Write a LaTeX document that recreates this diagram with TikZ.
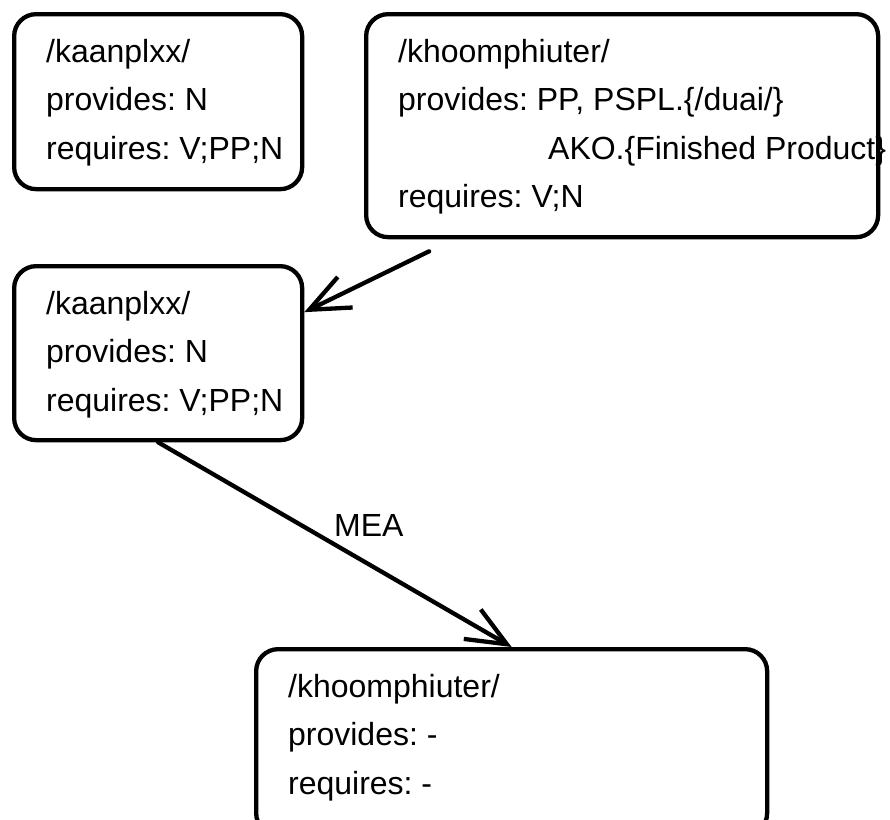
\documentclass[tikz,border=0pt]{standalone}
\usepackage{fontspec}
\setmainfont{Liberation Sans}
\usetikzlibrary{arrows.meta,calc}

% Fixed-size text block: #1 width, #2 height, #3 lines.
% First baseline sits 48pt below the top edge.
\newcommand\cardtext[3]{%
  \vbox to #2{\hsize=#1\relax\parskip=0pt\parindent=0pt
    \baselineskip=48.5pt\lineskiplimit=-100pt\frenchspacing
    \leftskip=32pt\rightskip=0pt plus 1fil\hyphenpenalty=10000
    \noindent\rule{0pt}{48pt}#3\par\vss}}

\begin{document}
\begin{tikzpicture}[x=1pt,y=-1pt,
    card/.style={draw=black, fill=white, line width=4.3pt,
      rounded corners=22pt, inner sep=0pt, anchor=north west},
    flow/.style={draw=black, line width=4.3pt, line cap=round,
      -{Straight Barb[length=40pt,width=34pt]}},
    every node/.style={font=\fontsize{32}{48.5}\selectfont}]

  \fill[white] (0,0) rectangle (890,819);
  \useasboundingbox (0,0) rectangle (890,819);

  \node[card] (b1) at (12,12)
    {\cardtext{288pt}{175pt}{/kaanplxx/\\provides: N\\requires: V;PP;N}};

  \node[card] (b2) at (364,12)
    {\cardtext{512pt}{223pt}{/khoomphiuter/\\provides: PP, PSPL.\{/duai/\}\\
      \mbox{\hspace*{150pt}AKO.\{Finished Product\}}\\requires: V;N}};

  \node[card] (b3) at (12,264)
    {\cardtext{288pt}{174pt}{/kaanplxx/\\provides: N\\requires: V;PP;N}};

  \node[card] (b4) at (254,647)
    {\cardtext{511pt}{186pt}{/khoomphiuter/\\provides: -\\requires: -}};

  \coordinate (a1) at ([xshift=-193pt,yshift=-12pt]b2.south);
  \draw[flow] (a1) -- ([yshift=41pt]b3.east);

  \draw[flow] (b3.south) -- (b4.north)
    node[midway, xshift=34pt, yshift=19.5pt] (mea) {MEA};
\end{tikzpicture}
\end{document}
